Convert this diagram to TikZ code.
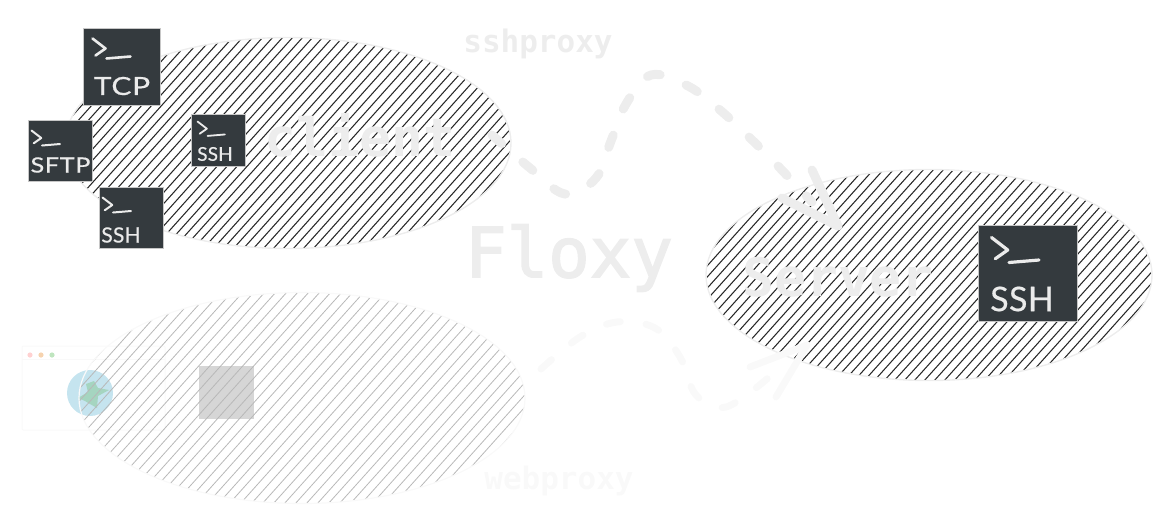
\documentclass[tikz,border=0pt]{standalone}
\usepackage{fontspec}
\usetikzlibrary{shapes.geometric,calc}
\setmonofont{DejaVu Sans Mono}
\newfontfamily\medmono[FakeBold=2.2]{DejaVu Sans Mono}
\newfontfamily\handfont[FakeStretch=1.2,LetterSpace=3,FakeBold=0.5]{Lato}
\newfontfamily\handnarrow[FakeStretch=1.0,LetterSpace=1,FakeBold=0.5]{Lato}
\definecolor{termfill}{HTML}{343A3E}
\definecolor{pale}{HTML}{EDEDED}
\definecolor{paler}{HTML}{F9F9F9}
\definecolor{globe}{HTML}{C5E4EF}
\definecolor{land}{HTML}{A5D5C0}
\tikzset{
  blob/.style={ellipse,inner sep=0pt,minimum width=446pt,minimum height=211pt,draw=pale,line width=1.4pt,
    path picture={\foreach \h in {-38,...,38}{\draw[#1,line width=1.05pt] (\h*10pt-130pt,-145pt) -- (\h*10pt+130pt,145pt);}}},
  webblob/.style={ellipse,inner sep=0pt,minimum width=446pt,minimum height=211pt,draw=paler,line width=1.2pt,
    path picture={\foreach \h in {-38,...,38}{\draw[#1,line width=.8pt] (\h*11pt-130pt,-145pt) -- (\h*11pt+130pt,145pt);}}},
  monolabel/.style={text=pale,inner sep=0pt},
  termbox/.style={draw=black!22,line width=1pt,fill=termfill,inner sep=0pt,minimum width=#1,minimum height=#1},
  termtext/.style={text=white!92!black,inner sep=0pt},
  promptline/.style={draw=white!92!black,line cap=round,line join=round},
  flow/.style={draw=pale,line width=9pt,line cap=round,dash pattern=on 13pt off 28pt},
  flowhead/.style={draw=pale,line width=9pt,line cap=round,line join=round},
  webflow/.style={draw=paler,line width=7pt,line cap=round,dash pattern=on 14pt off 26pt},
  webhead/.style={draw=paler,line width=7pt,line cap=round,line join=round},
}
\newcommand{\promptat}[5]{% node, dx, dy, scale, width
  \begin{scope}[shift={($(#1.north west)+(#2pt,-#3pt)$)},x=#4pt,y=-#4pt]
    \draw[promptline,line width=#5pt] (0,0) -- (13,10) -- (3,17);
    \draw[promptline,line width=#5pt] (14,20) -- (38,18);
  \end{scope}}
\begin{document}
\begin{tikzpicture}[x=1pt,y=-1pt]
\useasboundingbox (0,0) rectangle (1170,520);
% web side
\draw[paler,line width=1pt,rounded corners=1pt] (22,346) rectangle (165,430);
\draw[paler,line width=1pt] (22,359) -- (165,359);
\fill[red!45!white,opacity=.4] (30,355) circle (2.6);
\fill[orange!60!brown,opacity=.35] (41,355) circle (2.6);
\fill[green!60!black,opacity=.25] (52,355) circle (2.6);
\fill[globe] (90,393) circle (23);
\fill[land,line join=round] (78,398) -- (88,392) -- (86,384) -- (94,381) -- (98,388) -- (109,390) -- (98,396) -- (97,408) -- (90,404) -- (85,401) -- cycle;
\node[fill=black!16,minimum width=55pt,minimum height=53pt,inner sep=0pt] (webterm) at (226.5,392.5) {};
\node[webblob={black!28}] (web) at (302,398) {};
% main ellipses
\node[blob={black!85}] (client) at (288,143) {};
\node[blob={black!85}] (server) at (929,275) {};
% labels
\node[monolabel,font=\ttfamily\bfseries\fontsize{31}{31}\selectfont] (sshproxy) at (538,44) {sshproxy};
\node[monolabel,text=paler,font=\ttfamily\bfseries\fontsize{31}{31}\selectfont] (webproxy) at (559,481) {webproxy};
\node[monolabel,font=\medmono\fontsize{69}{69}\selectfont] (floxy) at (569,258) {Floxy};
\node[monolabel,font=\ttfamily\bfseries\fontsize{53}{53}\selectfont] (clienttext) at (360,135) {client};
\node[monolabel,font=\ttfamily\bfseries\fontsize{53}{53}\selectfont] (servertext) at (838,277) {Server};
% terminals
\node[termbox=77pt] (tcp) at (121.5,66.5) {};
\node[termtext,font=\handfont\fontsize{25}{25}\selectfont] (tcpt) at (122,86) {TCP};
\promptat{tcp}{10}{11}{1}{2.6}
\node[termbox=64pt,minimum height=61pt] (sftp) at (60,150.5) {};
\node[termtext,font=\handfont\fontsize{21}{21}\selectfont] (sftpt) at (60.5,165) {SFTP};
\promptat{sftp}{4}{11}{.75}{2}
\node[termbox=54pt,minimum height=52pt] (sshin) at (218,140) {};
\node[termtext,font=\handnarrow\fontsize{19}{19}\selectfont] (sshint) at (215,154) {SSH};
\promptat{sshin}{7}{8}{.72}{1.8}
\node[termbox=64pt,minimum height=61pt] (sshlow) at (131,217.5) {};
\node[termtext,font=\handnarrow\fontsize{21}{21}\selectfont] (sshlowt) at (121,235) {SSH};
\promptat{sshlow}{4}{11}{.75}{2}
\node[termbox=99pt,minimum height=96pt] (sshsrv) at (1027.5,273) {};
\node[termtext,font=\handnarrow\fontsize{34}{34}\selectfont] (sshsrvt) at (1022,299) {SSH};
\promptat{sshsrv}{14}{13}{1.25}{3.2}
% upper connector
\coordinate (a0) at (492,135);
\coordinate (a1) at (530,168);
\coordinate (a2) at (565,194);
\coordinate (a3) at (596,178);
\coordinate (a4) at (611,141);
\coordinate (a5) at (626,104);
\coordinate (a6) at (651,75);
\coordinate (a7) at (688,86);
\coordinate (a8) at (720,110);
\coordinate (a9) at (749,137);
\coordinate (a10) at (777,165);
\coordinate (a11) at (812,202);
\coordinate (h1) at (812,170);
\coordinate (h2) at (782,198);
\coordinate (htip) at (838,226);
\draw[flow] plot[smooth,tension=.6] coordinates {(a0) (a1) (a2) (a3) (a4) (a5) (a6) (a7) (a8) (a9) (a10) (a11)};
\draw[flowhead] (h1) -- (htip) -- (h2);
% lower connector
\coordinate (b0) at (541,369);
\coordinate (b1) at (580,337);
\coordinate (b2) at (617,322);
\coordinate (b3) at (655,328);
\coordinate (b4) at (680,357);
\coordinate (b5) at (696,395);
\coordinate (b6) at (726,407);
\coordinate (b7) at (768,378);
\coordinate (k1) at (750,367);
\coordinate (k2) at (776,397);
\coordinate (ktip) at (807,345);
\draw[webflow] plot[smooth,tension=.6] coordinates {(b0) (b1) (b2) (b3) (b4) (b5) (b6) (b7)};
\draw[webhead] (k1) -- (ktip) -- (k2);
\end{tikzpicture}
\end{document}
